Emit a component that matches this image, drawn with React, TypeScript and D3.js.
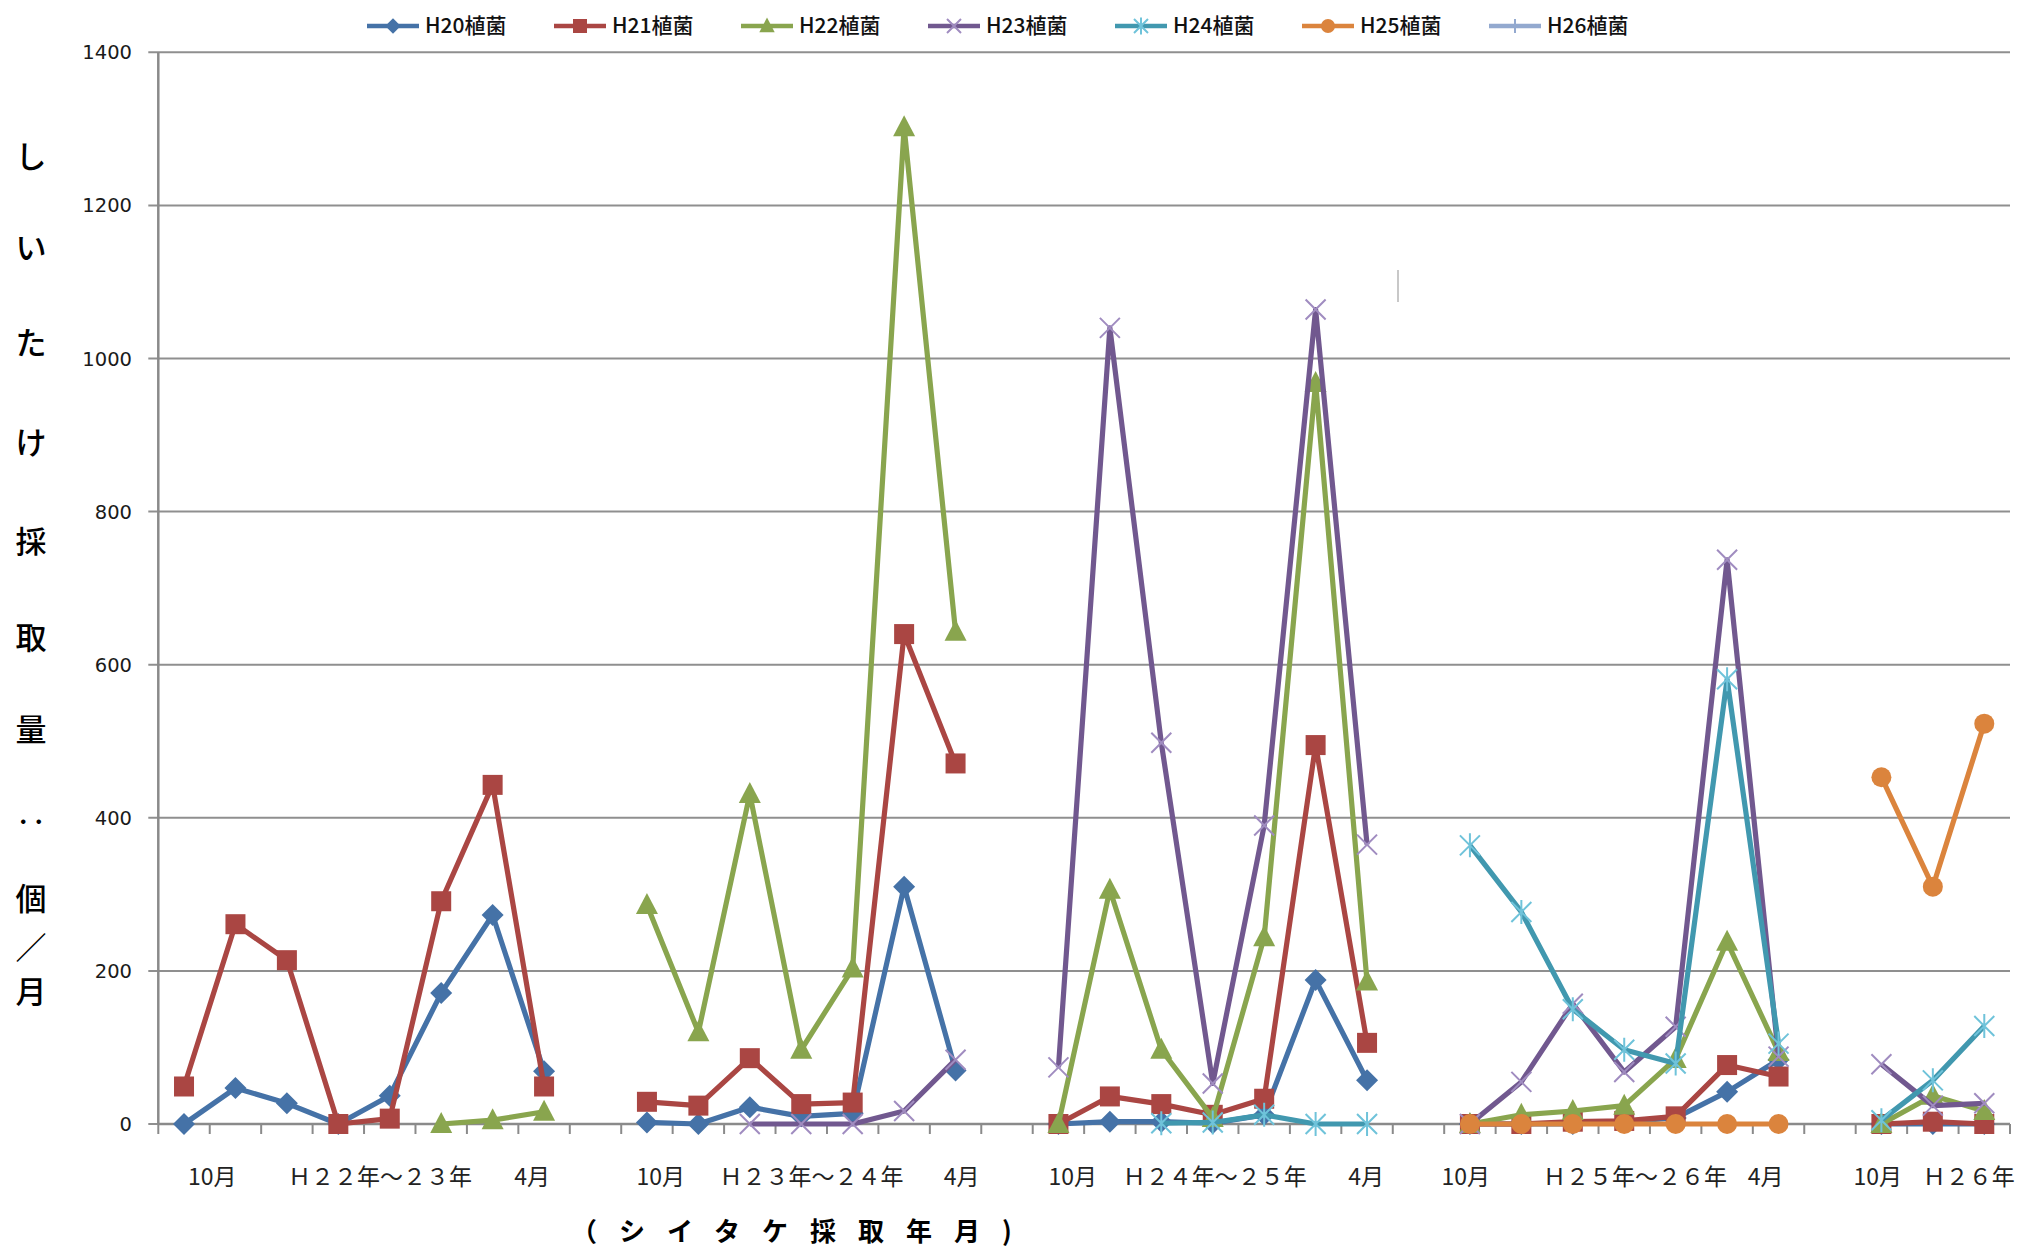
import React from "react";
import * as d3 from "d3";

// ---------- data ----------
const categories: number[] = Array.from({ length: 36 }, (_, i) => i);

const seriesNames = ["H20植菌", "H21植菌", "H22植菌", "H23植菌", "H24植菌", "H25植菌", "H26植菌"];
const seriesColors = ["#4572A7", "#AA4643", "#89A54E", "#71588F", "#4198AF", "#DB843D", "#93A9CF"];
const markerColors = ["#4572A7", "#AA4643", "#89A54E", "#A08CC0", "#6FC3DA", "#DB843D", "#93A9CF"];
const markerShapes = ["diamond", "square", "triangle", "x", "star", "circle", "plus"];

const _ = null;
const H20 = [0, 47, 27, 0, 37, 171, 273, 69, _, 2, 0, 22, 10, 14, 310, 70, _, 0, 3, 3, 1, 12, 188, 57, _, 0, 0, 0, 3, 8, 42, 84, _, 0, 0, 0];
const H21 = [49, 261, 214, 0, 7, 291, 443, 49, _, 29, 24, 86, 26, 28, 640, 471, _, 0, 36, 26, 12, 33, 495, 106, _, 0, 0, 3, 4, 10, 77, 62, _, 0, 3, 0];
const H22 = [_, _, _, _, _, 0, 5, 16, _, 286, 120, 431, 97, 203, 1302, 643, _, 0, 306, 97, 8, 244, 968, 186, _, 0, 12, 17, 24, 85, 238, 94, _, 0, 37, 17];
const H23 = [_, _, _, _, _, _, _, _, _, _, _, 0, 0, 0, 17, 84, _, 74, 1040, 498, 53, 390, 1064, 365, _, 0, 55, 157, 68, 127, 737, 88, _, 78, 24, 27];
const H24 = [_, _, _, _, _, _, _, _, _, _, _, _, _, _, _, _, _, _, _, 1, 2, 12, 0, 0, _, 364, 277, 150, 97, 79, 581, 105, _, 5, 57, 128];
const H25 = [_, _, _, _, _, _, _, _, _, _, _, _, _, _, _, _, _, _, _, _, _, _, _, _, _, 0, 0, 0, 0, 0, 0, 0, _, 453, 310, 523];
const H26: (number | null)[] = Array(36).fill(null);

const seriesValues = [H20, H21, H22, H23, H24, H25, H26];

const yTicks = [0, 200, 400, 600, 800, 1000, 1200, 1400];

// x-axis labels with their position in category units
const xLabelTexts = ["10月", "Ｈ２２年～２３年", "4月", "10月", "Ｈ２３年～２４年", "4月", "10月", "Ｈ２４年～２５年", "4月", "10月", "Ｈ２５年～２６年", "4月", "10月", "Ｈ２６年"];
const xLabelPos = [1.05, 4.31, 7.27, 9.77, 12.7, 15.62, 17.78, 20.54, 23.48, 25.42, 28.71, 31.25, 33.43, 35.2];

const yTitleChars = ["し", "い", "た", "け", "採", "取", "量", "‥", "個", "／", "月"];
const yTitlePos = [157, 248, 343, 443, 542, 638, 730, 822, 899, 948, 992];

const xTitle = "（シイタケ採取年月)";

// ---------- layout ----------
const W = 2021;
const H = 1249;
const plotLeft = 158.3;
const plotRight = 2010;
const plotTop = 52.3;
const plotBottom = 1124;

const JP = "'Noto Sans CJK JP', 'Noto Sans', sans-serif";

function Marker({ shape, color, cx, cy, s = 1 }: any) {
  const k = s;
  switch (shape) {
    case "diamond":
      return <path d={`M${cx},${cy - 11 * k}L${cx + 11 * k},${cy}L${cx},${cy + 11 * k}L${cx - 11 * k},${cy}Z`} fill={color} />;
    case "square":
      return <rect x={cx - 10 * k} y={cy - 10 * k} width={20 * k} height={20 * k} fill={color} />;
    case "triangle":
      return <path d={`M${cx},${cy - 12 * k}L${cx + 11 * k},${cy + 9 * k}L${cx - 11 * k},${cy + 9 * k}Z`} fill={color} />;
    case "x":
      return (
        <path d={`M${cx - 10 * k},${cy - 10 * k}L${cx + 10 * k},${cy + 10 * k}M${cx - 10 * k},${cy + 10 * k}L${cx + 10 * k},${cy - 10 * k}`} stroke={color} strokeWidth={2} fill="none" />
      );
    case "star":
      return (
        <path d={`M${cx - 10 * k},${cy - 10 * k}L${cx + 10 * k},${cy + 10 * k}M${cx - 10 * k},${cy + 10 * k}L${cx + 10 * k},${cy - 10 * k}M${cx},${cy - 12 * k}L${cx},${cy + 12 * k}`} stroke={color} strokeWidth={2} fill="none" />
      );
    case "circle":
      return <circle cx={cx} cy={cy} r={10 * k} fill={color} />;
    case "plus":
      return <path d={`M${cx - 10 * k},${cy}L${cx + 10 * k},${cy}M${cx},${cy - 10 * k}L${cx},${cy + 10 * k}`} stroke={color} strokeWidth={2} fill="none" />;
  }
  return null;
}

export default function App() {
  const x = d3.scaleBand<number>().domain(categories).range([plotLeft, plotRight]).padding(0);
  const bw = x.bandwidth();
  const cx = (i: number) => (x(i) as number) + bw / 2;
  const xu = d3.scaleLinear().domain([0, categories.length]).range([plotLeft, plotRight]);
  const y = d3.scaleLinear().domain([0, 1400]).range([plotBottom, plotTop]);

  const line = d3
    .line<number | null>()
    .defined((d) => d != null)
    .x((_d, i) => cx(i))
    .y((d) => y(d as number));

  return (
    <svg width={W} height={H} style={{ position: "absolute", left: 0, top: 0, background: "#fff" }}>
      <rect x={0} y={0} width={W} height={H} fill="#fff" />
      {/* gridlines */}
      {yTicks.map((t) => (
        <line key={t} x1={plotLeft - 10} x2={plotRight} y1={y(t)} y2={y(t)} stroke="#8f8f8f" strokeWidth={2} />
      ))}
      {/* y tick labels */}
      {yTicks.map((t) => (
        <text key={"l" + t} x={132} y={y(t) + 7} textAnchor="end" fontFamily="'DejaVu Sans', sans-serif" fontSize={19.5} fill="#1a1a1a">
          {t}
        </text>
      ))}
      {/* axes */}
      <line x1={plotLeft} x2={plotLeft} y1={plotTop} y2={plotBottom} stroke="#8a8a8a" strokeWidth={2.5} />
      <line x1={plotLeft} x2={plotRight} y1={plotBottom} y2={plotBottom} stroke="#8a8a8a" strokeWidth={2.5} />
      {d3.range(categories.length + 1).map((i) => (
        <line key={"t" + i} x1={xu(i)} x2={xu(i)} y1={plotBottom} y2={plotBottom + 10} stroke="#8a8a8a" strokeWidth={2} />
      ))}
      {/* x labels */}
      {xLabelTexts.map((t, i) => (
        <text key={"x" + i} x={xu(xLabelPos[i])} y={1185} textAnchor="middle" fontFamily={JP} fontSize={23} fill="#222">
          {t}
        </text>
      ))}
      {/* small artifact line */}
      <line x1={1398} x2={1398} y1={270} y2={302} stroke="#c8c8c8" strokeWidth={2} />
      {/* series */}
      {seriesValues.map((vals, si) => (
        <g key={"s" + si}>
          <path d={line(vals) || ""} fill="none" stroke={seriesColors[si]} strokeWidth={5.2} strokeLinejoin="round" />
          {vals.map((v, i) =>
            v == null ? null : (
              <Marker key={i} shape={markerShapes[si]} color={markerColors[si]} cx={cx(i)} cy={y(v)} />
            )
          )}
        </g>
      ))}
      {/* legend */}
      {seriesNames.map((n, si) => {
        const x0 = 367 + 187 * si;
        return (
          <g key={"lg" + si}>
            <line x1={x0} x2={x0 + 52} y1={26} y2={26} stroke={seriesColors[si]} strokeWidth={4.5} />
            <Marker shape={markerShapes[si]} color={markerColors[si]} cx={x0 + 26} cy={26} s={0.7} />
            <text x={x0 + 58} y={33} fontFamily={JP} fontSize={21} fontWeight={500} fill="#111">
              {n}
            </text>
          </g>
        );
      })}
      {/* y title */}
      {yTitleChars.map((c, i) => (
        <text key={"yt" + i} x={31} y={yTitlePos[i] + 11} textAnchor="middle" fontFamily={JP} fontSize={31} fontWeight={500} fill="#000">
          {c}
        </text>
      ))}
      {/* x title */}
      <text x={571} y={1241} fontFamily={JP} fontSize={26} fontWeight={700} letterSpacing={22} fill="#000">
        {xTitle}
      </text>
    </svg>
  );
}
